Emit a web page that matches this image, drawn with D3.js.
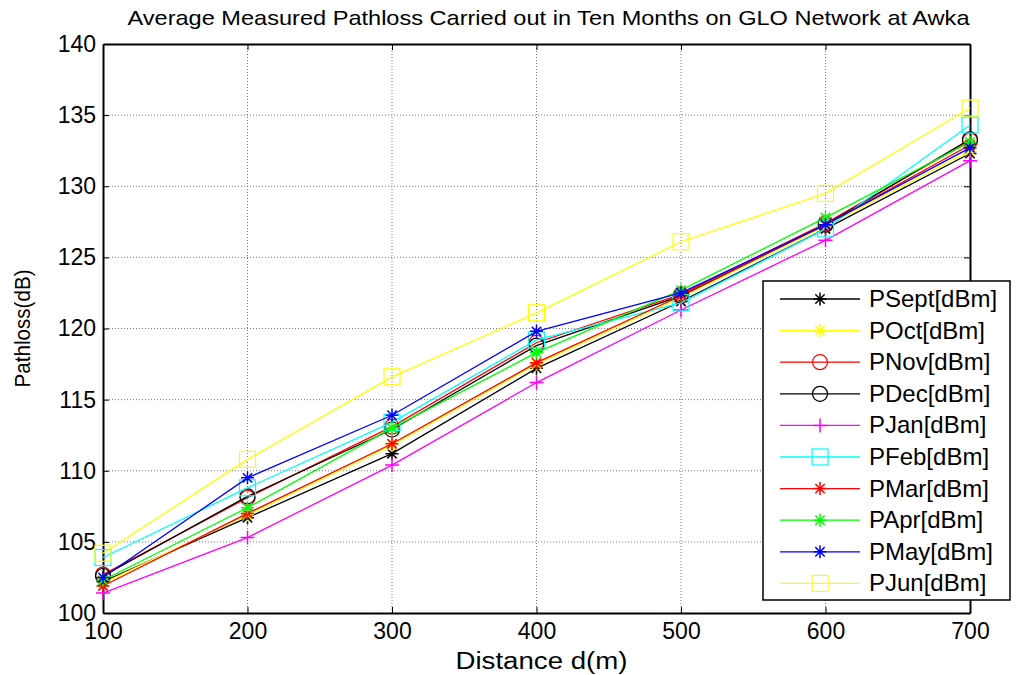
<!DOCTYPE html>
<html>
<head>
<meta charset="utf-8">
<script src="https://cdn.jsdelivr.net/npm/d3@7"></script>
<style>
  body { margin: 0; background: #fff; }
  svg { font-family: "Liberation Sans", Arial, sans-serif; }
</style>
</head>
<body>
<div id="chart"></div>
<script>
// Data
const distances = [100, 200, 300, 400, 500, 600, 700];
const seriesNames = ["PSept[dBm]", "POct[dBm]", "PNov[dBm]", "PDec[dBm]", "PJan[dBm]",
                     "PFeb[dBm]", "PMar[dBm]", "PApr[dBm]", "PMay[dBm]", "PJun[dBm]"];
const pSept = [102.2, 106.7, 111.2, 117.2, 121.9, 127.0, 132.3];
const pOct  = [102.1, 106.9, 111.8, 117.5, 122.2, 127.2, 132.5];
const pNov  = [102.7, 108.1, 113.1, 119.0, 122.4, 127.4, 133.2];
const pDec  = [102.6, 108.2, 112.9, 118.8, 122.3, 127.3, 133.3];
const pJan  = [101.4, 105.3, 110.4, 116.2, 121.3, 126.2, 131.8];
const pFeb  = [103.9, 108.8, 113.4, 119.2, 121.8, 127.0, 134.3];
const pMar  = [101.9, 107.0, 111.9, 117.6, 122.3, 127.3, 132.9];
const pApr  = [102.3, 107.4, 113.0, 118.3, 122.7, 127.8, 133.1];
const pMay  = [102.5, 109.5, 113.9, 119.8, 122.5, 127.3, 132.7];
const pJun  = [104.2, 110.8, 116.6, 121.1, 126.1, 129.5, 135.5];
const allValues = [pSept, pOct, pNov, pDec, pJan, pFeb, pMar, pApr, pMay, pJun];
const yTicks = [100, 105, 110, 115, 120, 125, 130, 135, 140];

// Style per series (colour, marker)
const styles = [
  { color: "#000000", marker: "star" },
  { color: "#ffff00", marker: "star" },
  { color: "#ff0000", marker: "circle" },
  { color: "#000000", marker: "circle" },
  { color: "#ff00ff", marker: "plus" },
  { color: "#00ffff", marker: "square" },
  { color: "#ff0000", marker: "star" },
  { color: "#00ff00", marker: "star" },
  { color: "#0000ff", marker: "star" },
  { color: "#ffff00", marker: "square" }
];

const width = 1022, height = 675;
const margin = { left: 103, right: 52, top: 44, bottom: 62 };

const svg = d3.select("#chart").append("svg")
    .attr("width", width)
    .attr("height", height);

const x = d3.scaleLinear().domain([100, 700]).range([margin.left, width - margin.right]);
const y = d3.scaleLinear().domain([100, 140]).range([height - margin.bottom, margin.top]);

// Grid lines
const grid = svg.append("g");
grid.selectAll(".vg").data(distances.slice(1, -1)).enter().append("line")
    .attr("x1", d => x(d)).attr("x2", d => x(d))
    .attr("y1", y(100)).attr("y2", y(140))
    .attr("stroke", "#777").attr("stroke-width", 1).attr("stroke-dasharray", "1,2");
grid.selectAll(".hg").data(yTicks.slice(1, -1)).enter().append("line")
    .attr("x1", x(100)).attr("x2", x(700))
    .attr("y1", d => y(d)).attr("y2", d => y(d))
    .attr("stroke", "#777").attr("stroke-width", 1).attr("stroke-dasharray", "1,2");

// Axes (ticks inside, mirrored on top and right)
const axisFont = "23px";
svg.append("g")
    .attr("transform", `translate(0,${y(100)})`)
    .call(d3.axisBottom(x).tickValues(distances).tickSizeInner(-6).tickSizeOuter(0).tickPadding(10));
svg.append("g")
    .attr("transform", `translate(${x(100)},0)`)
    .call(d3.axisLeft(y).tickValues(yTicks).tickSizeInner(-6).tickSizeOuter(0).tickPadding(7));
svg.append("g")
    .attr("transform", `translate(0,${y(140)})`)
    .call(d3.axisTop(x).tickValues(distances).tickSizeInner(-6).tickSizeOuter(0).tickFormat(""));
svg.append("g")
    .attr("transform", `translate(${x(700)},0)`)
    .call(d3.axisRight(y).tickValues(yTicks).tickSizeInner(-6).tickSizeOuter(0).tickFormat(""));
svg.selectAll(".domain").attr("stroke", "#000").attr("stroke-width", 2);
svg.selectAll(".tick line").attr("stroke", "#000");
svg.selectAll(".tick text")
    .attr("fill", "#000")
    .style("font-size", axisFont)
    .style("font-family", "'Liberation Sans', Arial, sans-serif");

// Marker drawing helper
function drawMarker(g, type, cx, cy, color) {
  if (type === "circle") {
    g.append("circle").attr("cx", cx).attr("cy", cy).attr("r", 7.5)
        .attr("fill", "none").attr("stroke", color).attr("stroke-width", 1.2);
  } else if (type === "square") {
    g.append("rect").attr("x", cx - 8).attr("y", cy - 8).attr("width", 16).attr("height", 16)
        .attr("fill", "none").attr("stroke", color).attr("stroke-width", 1.2);
  } else if (type === "plus") {
    const s = 7;
    g.append("path")
        .attr("d", `M${cx - s},${cy}H${cx + s}M${cx},${cy - s}V${cy + s}`)
        .attr("stroke", color).attr("stroke-width", 1.5).attr("fill", "none");
  } else {
    const s = 6.5, d = s * 0.72;
    g.append("path")
        .attr("d", `M${cx - s},${cy}H${cx + s}M${cx},${cy - s}V${cy + s}` +
                   `M${cx - d},${cy - d}L${cx + d},${cy + d}M${cx - d},${cy + d}L${cx + d},${cy - d}`)
        .attr("stroke", color).attr("stroke-width", 1.5).attr("fill", "none");
  }
}

// Lines and markers
const line = d3.line().x((d, i) => x(distances[i])).y(d => y(d));
allValues.forEach((vals, k) => {
  const st = styles[k];
  const g = svg.append("g");
  g.append("path").datum(vals)
      .attr("d", line)
      .attr("fill", "none")
      .attr("stroke", st.color)
      .attr("stroke-width", 1.3);
  vals.forEach((v, i) => drawMarker(g, st.marker, x(distances[i]), y(v), st.color));
});

// Legend
const legend = svg.append("g");
legend.append("rect")
    .attr("x", 763).attr("y", 281).attr("width", 247).attr("height", 319)
    .attr("fill", "#fff").attr("stroke", "#000").attr("stroke-width", 1.5);
seriesNames.forEach((name, k) => {
  const ly = 299 + k * 31.6;
  const st = styles[k];
  legend.append("line")
      .attr("x1", 780).attr("x2", 860).attr("y1", ly).attr("y2", ly)
      .attr("stroke", st.color).attr("stroke-width", 1.3);
  drawMarker(legend, st.marker, 820, ly, st.color);
  legend.append("text")
      .attr("x", 869).attr("y", ly + 8)
      .style("font-size", "24px")
      .text(name);
});

// Title and axis labels
svg.append("text")
    .attr("x", (x(100) + x(700)) / 2 + 12).attr("y", 25)
    .attr("text-anchor", "middle")
    .style("font-size", "21px")
    .attr("textLength", 842)
    .attr("lengthAdjust", "spacingAndGlyphs")
    .text("Average Measured Pathloss Carried out in Ten Months on GLO Network at Awka");
svg.append("text")
    .attr("x", (x(100) + x(700)) / 2 + 5).attr("y", 669)
    .attr("text-anchor", "middle")
    .style("font-size", "23px")
    .attr("textLength", 172)
    .attr("lengthAdjust", "spacingAndGlyphs")
    .text("Distance d(m)");
svg.append("text")
    .attr("transform", `translate(30,${(y(100) + y(140)) / 2}) rotate(-90)`)
    .attr("text-anchor", "middle")
    .style("font-size", "22px")
    .attr("textLength", 118)
    .attr("lengthAdjust", "spacingAndGlyphs")
    .text("Pathloss(dB)");
</script>
</body>
</html>
